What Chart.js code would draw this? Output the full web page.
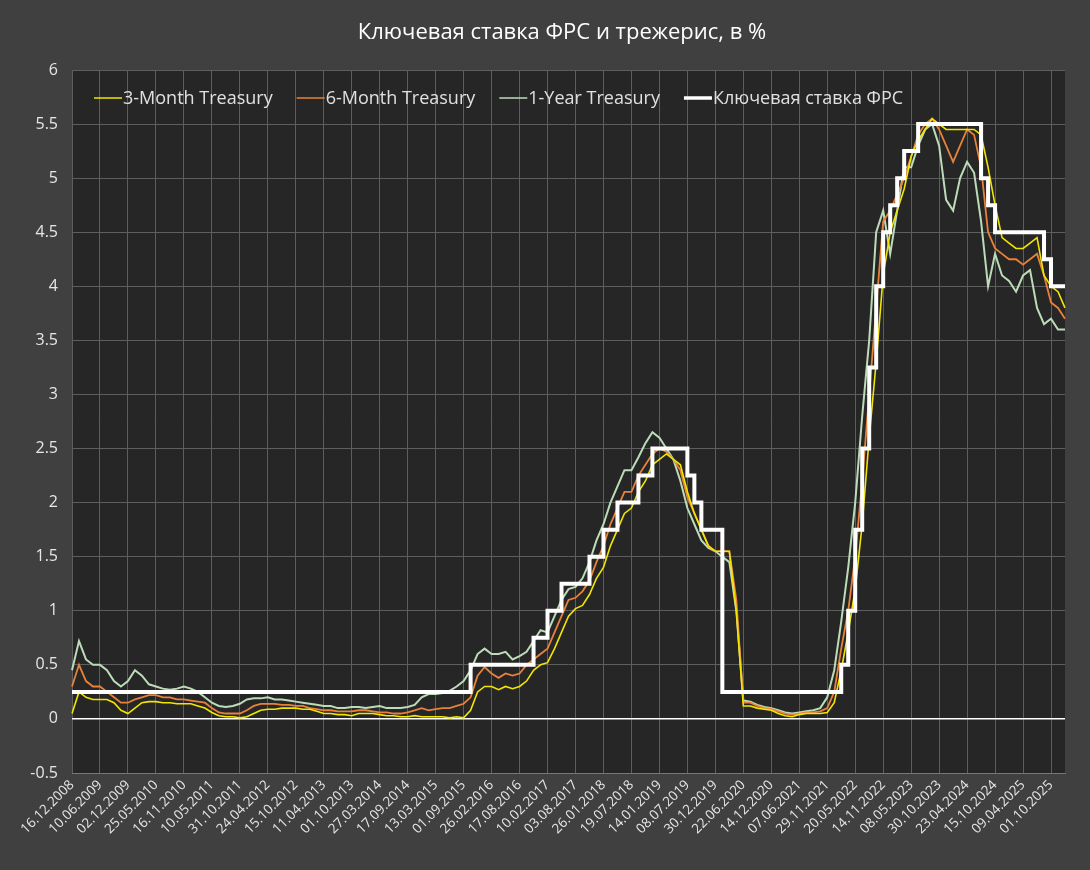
<!DOCTYPE html>
<html><head><meta charset="utf-8">
<script src="https://cdn.jsdelivr.net/npm/chart.js@4/dist/chart.umd.min.js"></script>
<style>html,body{margin:0;padding:0;background:#404040;}#wrap{width:1090px;height:870px;}</style>
</head><body><div id="wrap"><canvas id="c" width="1090" height="870"></canvas></div>
<script>
const dateTicks = ["16.12.2008","10.06.2009","02.12.2009","25.05.2010","16.11.2010","10.05.2011","31.10.2011","24.04.2012","15.10.2012","11.04.2013","01.10.2013","27.03.2014","17.09.2014","13.03.2015","01.09.2015","26.02.2016","17.08.2016","10.02.2017","03.08.2017","26.01.2018","19.07.2018","14.01.2019","08.07.2019","30.12.2019","22.06.2020","14.12.2020","07.06.2021","29.11.2021","20.05.2022","14.11.2022","08.05.2023","30.10.2023","23.04.2024","15.10.2024","09.04.2025","01.10.2025"];
const title = "Ключевая ставка ФРС и трежерис, в %";
const t3m = [0.05,0.25,0.2,0.18, 0.18,0.18,0.15,0.08, 0.05,0.1,0.15,0.16, 0.16,0.15,0.15,0.14, 0.14,0.14,0.12,0.1,
 0.06,0.03,0.02,0.02, 0.01,0.02,0.05,0.08, 0.09,0.09,0.1,0.1, 0.1,0.09,0.09,0.07, 0.05,0.05,0.04,0.04,
 0.03,0.05,0.05,0.05, 0.04,0.03,0.03,0.02, 0.02,0.03,0.02,0.02, 0.02,0.02,0.01,0.02, 0.01,0.08,0.25,0.3,
 0.3,0.27,0.3,0.28, 0.3,0.35,0.45,0.5, 0.52,0.65,0.8,0.95, 1.02,1.05,1.15,1.3, 1.4,1.6,1.75,1.9,
 1.95,2.1,2.2,2.35, 2.4,2.45,2.4,2.35, 2.1,1.9,1.75,1.6, 1.55,1.55,1.55,1.0, 0.12,0.12,0.1,0.09,
 0.08,0.05,0.03,0.02, 0.04,0.05,0.05,0.05, 0.06,0.15,0.45,0.8, 1.2,1.8,2.6,3.3, 4.1,4.5,4.7,4.9,
 5.2,5.35,5.45,5.55, 5.5,5.45,5.45,5.45, 5.45,5.45,5.4,5.1, 4.75,4.45,4.4,4.35, 4.35,4.4,4.45,4.1, 4.0,3.95,3.8];
const t6m = [0.3,0.5,0.35,0.3, 0.3,0.25,0.2,0.15, 0.15,0.18,0.2,0.22, 0.22,0.2,0.2,0.18, 0.18,0.17,0.16,0.15,
 0.1,0.06,0.05,0.05, 0.05,0.08,0.12,0.14, 0.14,0.14,0.13,0.13, 0.12,0.12,0.1,0.09, 0.08,0.08,0.07,0.07,
 0.07,0.08,0.08,0.07, 0.06,0.06,0.05,0.05, 0.06,0.08,0.1,0.08, 0.09,0.1,0.1,0.12, 0.14,0.2,0.4,0.48,
 0.42,0.38,0.42,0.4, 0.42,0.5,0.55,0.6, 0.65,0.8,0.95,1.1, 1.12,1.18,1.28,1.45, 1.6,1.8,1.95,2.1,
 2.1,2.25,2.35,2.45, 2.5,2.47,2.4,2.3, 2.05,1.9,1.75,1.6, 1.55,1.55,1.55,1.1, 0.15,0.15,0.12,0.1,
 0.09,0.07,0.05,0.04, 0.05,0.06,0.06,0.07, 0.1,0.25,0.65,1.0, 1.5,2.2,3.0,3.8, 4.6,4.7,4.85,5.0,
 5.2,5.4,5.5,5.55, 5.45,5.3,5.15,5.3, 5.45,5.4,5.1,4.5, 4.35,4.3,4.25,4.25, 4.2,4.25,4.3,4.1, 3.85,3.8,3.7];
const t1y = [0.45,0.72,0.55,0.5, 0.5,0.45,0.35,0.3, 0.35,0.45,0.4,0.32, 0.3,0.28,0.27,0.28, 0.3,0.28,0.25,0.2,
 0.15,0.12,0.11,0.12, 0.14,0.18,0.19,0.19, 0.2,0.18,0.18,0.17, 0.16,0.15,0.14,0.13, 0.12,0.12,0.1,0.1,
 0.11,0.11,0.1,0.11, 0.12,0.1,0.1,0.1, 0.11,0.13,0.2,0.23, 0.23,0.24,0.26,0.3, 0.35,0.45,0.6,0.65,
 0.6,0.6,0.62,0.55, 0.58,0.62,0.72,0.82, 0.8,0.95,1.1,1.2, 1.22,1.3,1.45,1.65, 1.8,2.0,2.15,2.3,
 2.3,2.42,2.55,2.65, 2.6,2.5,2.4,2.2, 1.95,1.8,1.65,1.58, 1.55,1.5,1.45,1.0, 0.17,0.16,0.13,0.11,
 0.1,0.08,0.06,0.05, 0.06,0.07,0.08,0.1, 0.2,0.45,0.9,1.4, 2.0,2.8,3.5,4.5, 4.7,4.3,4.7,5.1,
 5.1,5.3,5.45,5.5, 5.3,4.8,4.7,5.0, 5.15,5.05,4.6,4.0, 4.3,4.1,4.05,3.95, 4.1,4.15,3.8,3.65, 3.7,3.6,3.6];
// Fed rate: [start index, value]
const fedSteps = [[0,0.25],[58,0.5],[67,0.75],[69,1.0],[71,1.25],[75,1.5],[77,1.75],[79,2.0],[82,2.25],[84,2.5],
 [89,2.25],[90,2.0],[91,1.75],[94,0.25],[111,0.5],[112,1.0],[113,1.75],[114,2.5],[115,3.25],[116,4.0],[117,4.5],
 [118,4.75],[119,5.0],[120,5.25],[122,5.5],[131,5.0],[132,4.75],[133,4.5],[140,4.25],[141,4.0]];
const N = t3m.length;
const labels = Array.from({length:N},(_,i)=> i%4===0 && dateTicks[i/4] ? dateTicks[i/4] : '');
const fed = Array.from({length:N},(_,i)=>{let v=0;for(const s of fedSteps){if(s[0]<=i)v=s[1];}return v;});
const FONT = '"Open Sans", "Noto Sans", sans-serif';

const bgPlugin = {
  id:'bg',
  beforeDraw(ch){const {ctx,chartArea:a}=ch;ctx.save();ctx.fillStyle='#404040';ctx.fillRect(0,0,ch.width,ch.height);
    ctx.fillStyle='#262626';ctx.fillRect(a.left,a.top,a.right-a.left,a.bottom-a.top);ctx.restore();},
  afterDraw(ch){const {ctx,chartArea:a}=ch;ctx.save();
    ctx.fillStyle='#ffffff';ctx.font='22px '+FONT;ctx.textAlign='center';ctx.textBaseline='middle';
    ctx.fillText(title,562,33);
    ctx.font='18px '+FONT;ctx.textAlign='left';
    let x=a.left+22;const y=98;
    ch.data.datasets.slice().reverse().forEach(ds=>{
      ctx.strokeStyle=ds.borderColor;ctx.lineWidth=ds.label.startsWith('Ключ')?3.5:1.5;
      ctx.beginPath();ctx.moveTo(x,y);ctx.lineTo(x+28,y);ctx.stroke();
      ctx.fillStyle='#e0e0e0';ctx.fillText(ds.label,x+29,y+1);
      x+=29+ctx.measureText(ds.label).width+24;});
    ctx.restore();}
};
new Chart(document.getElementById('c'),{
  type:'line',
  data:{labels,datasets:[
    {label:'Ключевая ставка ФРС',data:fed,borderColor:'#ffffff',borderWidth:4,stepped:'after',pointRadius:0,order:0},
    {label:'1-Year Treasury',data:t1y,borderColor:'#bcdcb8',borderWidth:2,pointRadius:0,order:3},
    {label:'6-Month Treasury',data:t6m,borderColor:'#e8823a',borderWidth:1.8,pointRadius:0,order:2},
    {label:'3-Month Treasury',data:t3m,borderColor:'#f2e600',borderWidth:1.6,pointRadius:0,order:1}
  ]},
  options:{responsive:false,animation:false,devicePixelRatio:1,
    layout:{padding:{top:70,right:25,left:0,bottom:0}},
    plugins:{legend:{display:false},title:{display:false},tooltip:{enabled:false}},
    scales:{
      x:{type:'category',offset:false,
        afterFit(s){s.height=97;},
        border:{color:'#777'},
        grid:{color:c=>labels[c.index]?'#5e5e5e':'rgba(0,0,0,0)',drawTicks:false},
        ticks:{autoSkip:false,maxRotation:45,minRotation:45,color:'#e6e6e6',padding:4,
          font:{size:13.5,family:FONT},
          callback:(v,i)=>labels[i]}},
      y:{min:-0.5,max:6,
        afterFit(s){s.width=72;},
        border:{display:false},
        grid:{color:c=>c.tick.value===0?'#ffffff':'#5e5e5e',lineWidth:c=>c.tick.value===0?1.5:1,drawTicks:false},
        ticks:{stepSize:0.5,color:'#e6e6e6',padding:14,font:{size:16,family:FONT},callback:v=>String(v)}}
    }},
  plugins:[bgPlugin]
});
</script></body></html>
